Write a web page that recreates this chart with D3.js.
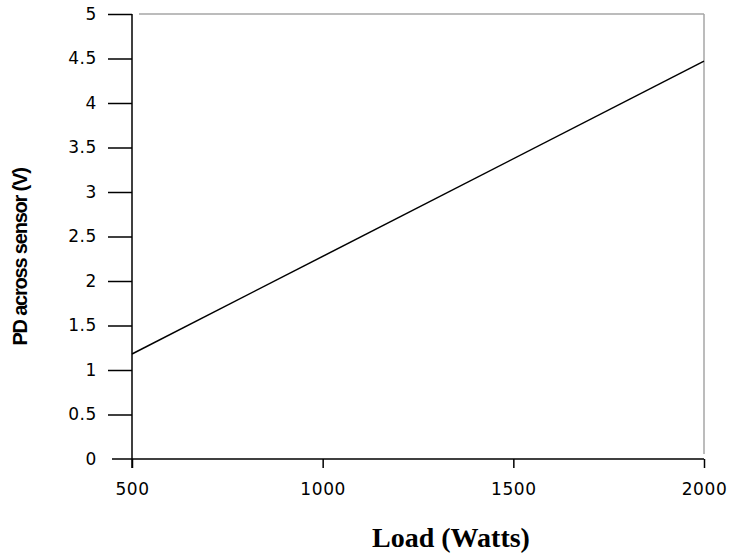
<!DOCTYPE html>
<html>
<head>
<meta charset="utf-8">
<script src="https://cdn.jsdelivr.net/npm/d3@7"></script>
<style>
  body { margin: 0; background: #fff; }
  .tick text { font-family: "DejaVu Sans", Verdana, sans-serif; font-size: 17px; fill: #000; letter-spacing: 0.6px; }
</style>
</head>
<body>
<div id="chart"></div>
<script>
// data
var loadWatts = [500, 2000];
var pdVolts = [1.18, 4.47];
var xTicks = [500, 1000, 1500, 2000];
var yTicks = [0, 0.5, 1, 1.5, 2, 2.5, 3, 3.5, 4, 4.5, 5];

var w = 729, h = 555;
var plotLeft = 132, plotRight = 704, plotTop = 14, plotBottom = 459;

var svg = d3.select("#chart").append("svg")
    .attr("width", w)
    .attr("height", h);

var x = d3.scaleLinear().domain([500, 2000]).range([plotLeft, plotRight]);
var y = d3.scaleLinear().domain([0, 5]).range([plotBottom, plotTop]);

// gray frame on top and right
svg.append("line")
    .attr("x1", plotLeft + 7).attr("x2", plotRight)
    .attr("y1", y(5)).attr("y2", y(5))
    .attr("stroke", "#a6a6a6").attr("stroke-width", 1.5);
svg.append("line")
    .attr("x1", plotRight).attr("x2", plotRight)
    .attr("y1", y(5)).attr("y2", plotBottom - 5)
    .attr("stroke", "#a6a6a6").attr("stroke-width", 1.5);

// y axis
var yAxis = svg.append("g")
    .attr("transform", "translate(" + plotLeft + ",0)")
    .call(d3.axisLeft(y).tickValues(yTicks).tickSize(24).tickPadding(11)
        .tickFormat(function(d){ return d; }));
yAxis.select(".domain").remove();
yAxis.append("line")
    .attr("x1", 0).attr("x2", 0)
    .attr("y1", plotTop).attr("y2", plotBottom + 9)
    .attr("stroke", "#000").attr("stroke-width", 1.5);
yAxis.selectAll(".tick line").attr("stroke-width", 1.5);
yAxis.selectAll(".tick").filter(function(d){ return d === 0; }).select("line").remove();

// x axis
var xAxis = svg.append("g")
    .attr("transform", "translate(0," + plotBottom + ")")
    .call(d3.axisBottom(x).tickValues(xTicks).tickSize(9)
        .tickFormat(d3.format("d")));
xAxis.select(".domain").remove();
xAxis.selectAll(".tick text").attr("dy", null).attr("y", 36);
xAxis.append("line")
    .attr("x1", plotLeft - 20).attr("x2", plotRight)
    .attr("y1", 0).attr("y2", 0)
    .attr("stroke", "#000").attr("stroke-width", 1.5);
xAxis.selectAll(".tick line").attr("stroke-width", 1.5);

// data line
var line = d3.line()
    .x(function(d){ return x(d[0]); })
    .y(function(d){ return y(d[1]); });

svg.append("path")
    .datum(d3.zip(loadWatts, pdVolts))
    .attr("d", line)
    .attr("fill", "none")
    .attr("stroke", "#000")
    .attr("stroke-width", 1.5);

// axis titles
svg.append("text")
    .attr("transform", "translate(27,257) rotate(-90)")
    .attr("text-anchor", "middle")
    .style("font-family", "'Liberation Sans', Arial, sans-serif")
    .style("font-weight", "bold")
    .style("font-size", "20px")
    .style("letter-spacing", "-1.2px")
    .text("PD across sensor (V)");

svg.append("text")
    .attr("x", 451)
    .attr("y", 547)
    .attr("text-anchor", "middle")
    .style("font-family", "'Liberation Serif', 'Times New Roman', serif")
    .style("font-weight", "bold")
    .style("font-size", "28px")
    .text("Load (Watts)");
</script>
</body>
</html>
